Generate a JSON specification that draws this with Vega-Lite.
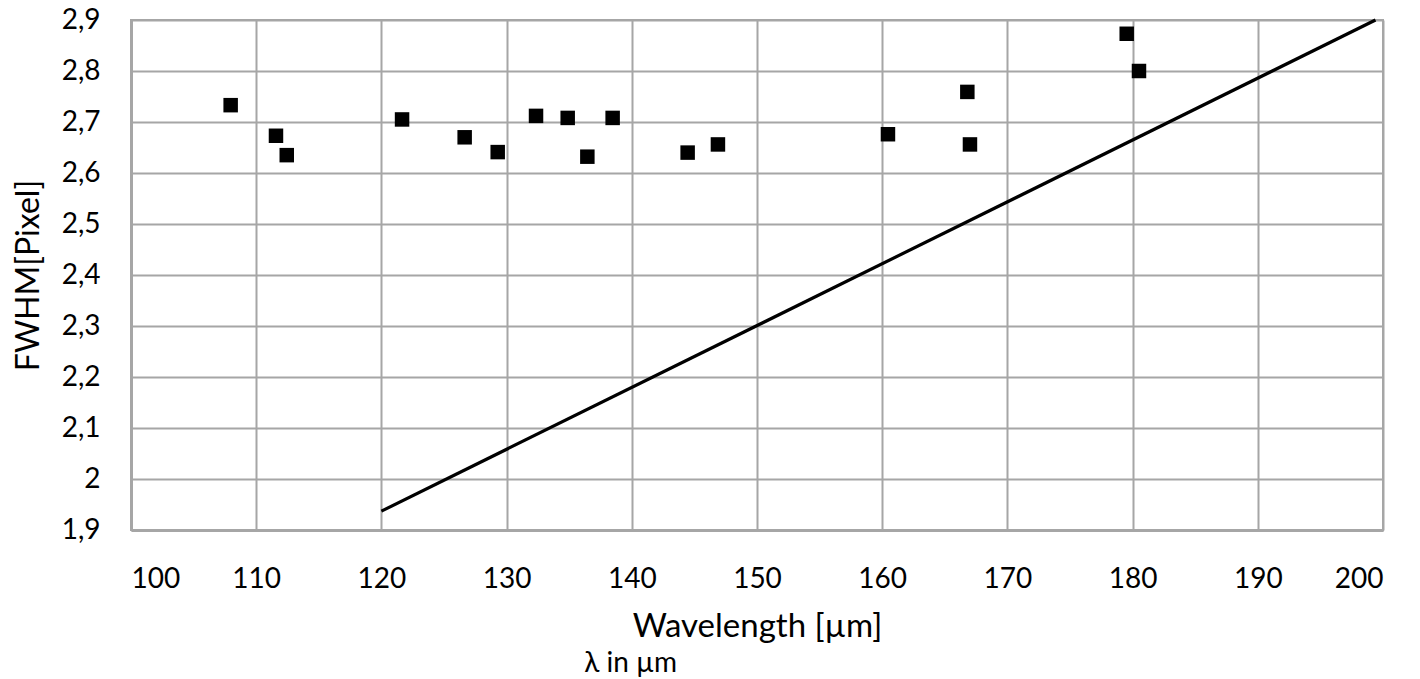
{
  "$schema": "https://vega.github.io/schema/vega-lite/v6.json",
  "width": 1252,
  "height": 510,
  "autosize": {"type": "none"},
  "padding": {"left": 131, "top": 20, "right": 37, "bottom": 149},
  "background": "white",
  "config": {
    "font": "Lato",
    "view": {"stroke": "#a6a6a6", "strokeWidth": 2},
    "axis": {
      "labelFont": "Lato",
      "titleFont": "Lato",
      "labelColor": "#000000",
      "titleColor": "#000000",
      "labelFontSize": 28,
      "titleFontWeight": "normal",
      "gridColor": "#a6a6a6",
      "gridWidth": 2,
      "gridOpacity": 1,
      "domainColor": "#a6a6a6",
      "domainWidth": 3,
      "ticks": false
    }
  },
  "title": {
    "text": "λ in µm",
    "orient": "bottom",
    "anchor": "start",
    "font": "Lato",
    "fontSize": 28,
    "fontWeight": "normal",
    "color": "#000000",
    "dx": 572,
    "offset": 7
  },
  "datasets": {
    "points": [
      {"wavelength": 107.96, "fwhm": 2.733},
      {"wavelength": 111.58, "fwhm": 2.673},
      {"wavelength": 112.44, "fwhm": 2.635},
      {"wavelength": 121.65, "fwhm": 2.705},
      {"wavelength": 126.65, "fwhm": 2.670},
      {"wavelength": 129.29, "fwhm": 2.641},
      {"wavelength": 132.35, "fwhm": 2.712},
      {"wavelength": 134.88, "fwhm": 2.708},
      {"wavelength": 136.45, "fwhm": 2.632},
      {"wavelength": 138.47, "fwhm": 2.708},
      {"wavelength": 144.46, "fwhm": 2.640},
      {"wavelength": 146.88, "fwhm": 2.656},
      {"wavelength": 160.46, "fwhm": 2.676},
      {"wavelength": 166.80, "fwhm": 2.759},
      {"wavelength": 167.01, "fwhm": 2.656},
      {"wavelength": 179.53, "fwhm": 2.873},
      {"wavelength": 180.51, "fwhm": 2.800}
    ],
    "line": [
      {"wavelength": 120, "fwhm": 1.937},
      {"wavelength": 199.4, "fwhm": 2.9}
    ]
  },
  "layer": [
    {
      "data": {"name": "line"},
      "mark": {"type": "line", "color": "#000000", "strokeWidth": 3.2},
      "encoding": {
        "x": {
          "field": "wavelength",
          "type": "quantitative",
          "scale": {"domain": [100, 200], "nice": false, "zero": false},
          "axis": {
            "title": "Wavelength [µm]",
            "titleFontSize": 33,
            "values": [100, 110, 120, 130, 140, 150, 160, 170, 180, 190, 200],
            "labelPadding": 35,
            "titlePadding": 17
          }
        },
        "y": {
          "field": "fwhm",
          "type": "quantitative",
          "scale": {"domain": [1.9, 2.9], "nice": false, "zero": false},
          "axis": {
            "title": "FWHM[Pixel]",
            "titleFontSize": 32,
            "values": [1.9, 2.0, 2.1, 2.2, 2.3, 2.4, 2.5, 2.6, 2.7, 2.8, 2.9],
            "labelExpr": "replace(format(datum.value, '.1~f'), '.', ',')",
            "labelPadding": 31,
            "titlePadding": 16
          }
        }
      }
    },
    {
      "data": {"name": "points"},
      "mark": {"type": "point", "shape": "square", "filled": true, "color": "#000000", "opacity": 1, "size": 210},
      "encoding": {
        "x": {"field": "wavelength", "type": "quantitative"},
        "y": {"field": "fwhm", "type": "quantitative"}
      }
    }
  ]
}
